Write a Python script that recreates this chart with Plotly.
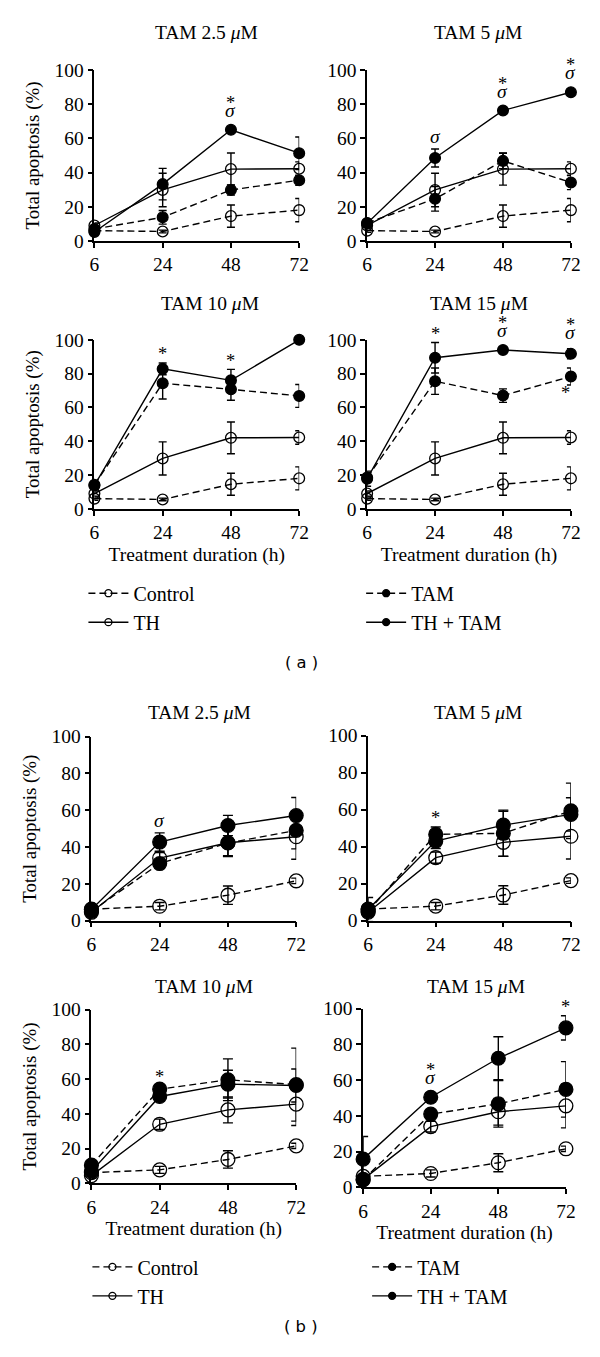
import plotly.graph_objects as go

# x categories (treatment duration, h)
hours = ["6", "24", "48", "72"]
doses = ["2.5", "5", "10", "15"]

# ---- panel (a) ----
# Control and TH are the same in all four doses
control_a = [6.0, 5.5, 14.5, 18.0]
control_a_err = [1.0, 0.8, 6.5, 6.8]
th_a = [9.0, 29.8, 42.0, 42.2]
th_a_err = [1.5, 9.8, 9.4, 4.0]

# one list per dose: 2.5, 5, 10, 15 uM
tam_a = [[7.0, 13.8, 29.8, 35.5], [10.5, 24.6, 46.8, 34.2],
         [14.2, 74.3, 70.7, 66.8], [18.5, 75.5, 67.0, 78.3]]
tam_a_err = [[1.5, 4.0, 3.0, 3.0], [1.5, 7.2, 4.5, 4.2],
             [2.0, 9.3, 6.5, 6.8], [3.0, 7.8, 4.0, 5.0]]
thtam_a = [[5.2, 33.2, 65.0, 51.3], [10.3, 48.5, 76.3, 87.0],
           [13.8, 82.8, 76.0, 100.0], [17.8, 89.4, 94.0, 91.8]]
thtam_a_err = [[1.5, 9.2, 1.5, 9.5], [1.5, 5.3, 1.5, 2.0],
               [2.0, 3.5, 6.5, 0.5], [4.5, 9.0, 1.5, 3.0]]
sig_a = [["", "", "*σ", ""], ["", "σ", "*σ", "*σ"],
         ["", "*", "*", "*σ"], ["", "*", "*σ", "*σ"]]
sig_below_a = [["", "", "", ""], ["", "", "", ""],
               ["", "", "", ""], ["", "", "", "*"]]

# ---- panel (b) ----
control_b = [6.2, 7.8, 13.8, 21.6]
control_b_err = [1.0, 2.0, 5.0, 1.5]
th_b = [4.5, 34.0, 42.3, 45.6]
th_b_err = [1.5, 3.0, 7.5, 12.3]

tam_b = [[5.0, 31.0, 42.2, 49.0], [5.0, 46.6, 47.2, 59.3],
         [10.5, 54.2, 59.6, 56.8], [4.2, 41.0, 46.7, 54.8]]
tam_b_err = [[2.0, 2.0, 7.0, 10.0], [2.0, 4.0, 12.5, 15.0],
             [2.0, 2.0, 12.0, 21.0], [2.0, 2.0, 13.0, 15.5]]
thtam_b = [[6.0, 42.7, 51.7, 57.1], [6.0, 43.0, 51.6, 57.4],
           [7.0, 50.0, 57.1, 56.3], [15.8, 50.4, 72.2, 89.2]]
thtam_b_err = [[2.0, 5.0, 5.5, 9.8], [6.5, 4.0, 7.5, 9.0],
               [2.0, 2.0, 8.0, 9.5], [12.7, 2.0, 12.0, 6.8]]
sig_b = [["", "σ", "", ""], ["", "*", "", ""],
         ["", "*", "", ""], ["", "*σ", "", "*"]]
sig_below_b = [["", "", "", ""], ["", "", "", ""],
               ["", "", "", ""], ["", "", "", ""]]

W, H = 600, 1357
SERIF = "Liberation Serif"
# the photographed page comes out slightly shrunk; positions below are
# given in the final picture's pixels and mapped back to figure pixels
AX, SX = 3.5, 0.976
AY, SY = 8.0, 0.985


def fx(px):
    return (px - AX) / SX / W


def fy(py):
    return 1 - (py - AY) / SY / H


def fs(size):
    return size / SX


# plot boxes in picture pixels: (left, right, top, bottom)
boxes = [(93, 298, 68, 239), (366, 570, 68, 239),
         (93, 298, 338, 507), (366, 570, 338, 507),
         (90, 295, 735, 919), (367, 570, 734, 919),
         (90, 295, 1008, 1182), (362, 565, 1007, 1186)]
title_pos = [(205, 31), (477, 31), (209, 302), (478, 302),
             (198, 711), (477, 711), (203, 985), (475, 985)]

xpos = list(range(len(hours)))

fig = go.Figure()
layout = {}
annotations = []


def style(name):
    dashed = name in ("Control", "TAM")
    filled = name in ("TAM", "TH + TAM")
    return dict(dash="7px,4px" if dashed else "solid",
                symbol="circle" if filled else "circle-open")


def txt(size):
    return dict(family=SERIF, size=fs(size), color="black")


def add_panel(idx, series, sig, sig_below, msize, capw):
    l, r, t, b = boxes[idx - 1]
    ax = "" if idx == 1 else str(idx)
    xa, ya = "x" + ax, "y" + ax
    is_left = l < 300
    is_bottom = idx in (3, 4, 7, 8)
    layout["xaxis" + ax] = dict(
        domain=[fx(l), fx(r)], anchor=ya, range=[0, 3],
        tickvals=xpos, ticktext=hours,
        showline=True, linecolor="black", linewidth=1.6, ticks="outside",
        ticklen=5, tickwidth=1.5, tickcolor="black", showgrid=False,
        zeroline=False, tickfont=txt(19),
        title=dict(text="Treatment duration (h)" if is_bottom else "",
                   font=txt(19), standoff=5),
    )
    layout["yaxis" + ax] = dict(
        domain=[fy(b), fy(t)], anchor=xa, range=[0, 100],
        tickvals=[0, 20, 40, 60, 80, 100], showline=True, linecolor="black",
        linewidth=1.6, ticks="outside", ticklen=5, tickwidth=1.5,
        tickcolor="black", showgrid=False, zeroline=False,
        tickfont=txt(19),
        title=dict(text="Total apoptosis (%)" if is_left else "",
                   font=txt(18.5), standoff=10),
    )
    for name, vals, errs in series:
        st = style(name)
        fig.add_trace(go.Scatter(
            x=xpos, y=vals, xaxis=xa, yaxis=ya, mode="lines+markers",
            name=name, showlegend=False, cliponaxis=False,
            line=dict(color="black", width=1.4, dash=st["dash"]),
            marker=dict(symbol=st["symbol"], size=fs(msize), color="black",
                        line=dict(color="black", width=1.3)),
            error_y=dict(type="data", array=errs, color="black",
                         thickness=1.4, width=capw),
        ))
    # significance marks above the highest bar
    tam_vals, tam_errs = series[2][1], series[2][2]
    for i, mark in enumerate(sig):
        if not mark:
            continue
        top = max(v[i] + e[i] for _, v, e in series)
        both = "σ" in mark and "*" in mark
        if "σ" in mark:
            annotations.append(dict(
                x=xpos[i], y=top, xref=xa, yref=ya, text="<i>σ</i>",
                showarrow=False, xanchor="center", yanchor="bottom",
                yshift=4 if both else 0, font=txt(19)))
        if "*" in mark:
            annotations.append(dict(
                x=xpos[i], y=top, xref=xa, yref=ya, text="*",
                showarrow=False, xanchor="center", yanchor="bottom",
                yshift=12 if both else -3.5, font=txt(18)))
    for i, mark in enumerate(sig_below):
        if mark:
            annotations.append(dict(
                x=xpos[i], y=tam_vals[i] - tam_errs[i], xref=xa, yref=ya,
                text=mark, showarrow=False, xanchor="center", yanchor="top",
                xshift=-5, yshift=4, font=txt(18)))
    # subplot title
    tx, ty = title_pos[idx - 1]
    annotations.append(dict(
        x=fx(tx), y=fy(ty), xref="paper", yref="paper",
        xanchor="center", yanchor="middle",
        text="TAM " + doses[(idx - 1) % 4] + " <i>μ</i>M", showarrow=False,
        font=txt(19)))


idx = 1
for k in range(4):
    series = [("Control", control_a, control_a_err), ("TH", th_a, th_a_err),
              ("TAM", tam_a[k], tam_a_err[k]),
              ("TH + TAM", thtam_a[k], thtam_a_err[k])]
    add_panel(idx, series, sig_a[k], sig_below_a[k], 10.5, 4)
    idx += 1
for k in range(4):
    series = [("Control", control_b, control_b_err), ("TH", th_b, th_b_err),
              ("TAM", tam_b[k], tam_b_err[k]),
              ("TH + TAM", thtam_b[k], thtam_b_err[k])]
    add_panel(idx, series, sig_b[k], sig_below_b[k], 13.5, 5)
    idx += 1

# legends: two columns under each panel (left edge, top in picture pixels)
legend_pos = [("legend", 82, 572, ["Control", "TH"]),
              ("legend2", 360, 572, ["TAM", "TH + TAM"]),
              ("legend3", 86, 1246, ["Control", "TH"]),
              ("legend4", 366, 1246, ["TAM", "TH + TAM"])]
for lg, lx, ly, names in legend_pos:
    for name in names:
        st = style(name)
        fig.add_trace(go.Scatter(
            x=[None], y=[None], mode="lines+markers", name=name, legend=lg,
            line=dict(color="black", width=1.4, dash=st["dash"]),
            marker=dict(symbol=st["symbol"], size=7, color="black",
                        line=dict(color="black", width=1.3)),
        ))
    layout[lg] = dict(x=fx(lx), y=fy(ly), xanchor="left", yanchor="top",
                      bgcolor="rgba(0,0,0,0)", itemwidth=40, tracegroupgap=0,
                      font=txt(19.5))

for label, ly in (("( a )", 661), ("( b )", 1325)):
    annotations.append(dict(x=fx(300), y=fy(ly), xref="paper", yref="paper",
                            xanchor="center", yanchor="middle", text=label,
                            showarrow=False,
                            font=dict(family="DejaVu Sans", size=fs(16),
                                      color="black")))

fig.update_layout(
    width=W, height=H, margin=dict(l=0, r=0, t=0, b=0),
    paper_bgcolor="white", plot_bgcolor="white",
    font=dict(family=SERIF, color="black"),
    annotations=annotations, **layout,
)

# drop the default page margin so the figure fills the 600x1357 window
fig.write_html(
    "out.html",
    config={"displayModeBar": False},
    post_script="document.body.style.margin='0';"
                "document.body.style.overflow='hidden';",
)
